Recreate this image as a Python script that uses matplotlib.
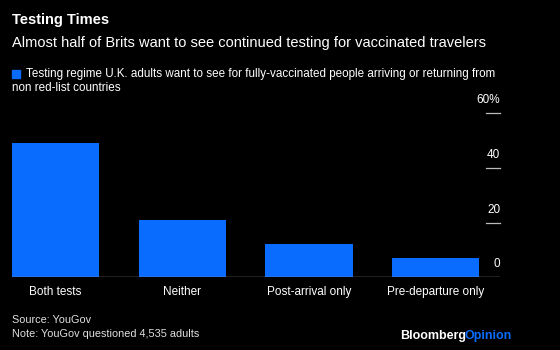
import matplotlib.pyplot as plt
import matplotlib.transforms as mtransforms

plt.rcParams['font.family'] = ['Liberation Sans', 'DejaVu Sans']

categories = ['Both tests', 'Neither', 'Post-arrival only', 'Pre-departure only']
shares = [49, 21, 12, 7]
yticks = [0, 20, 40, 60]
ytick_labels = ['0', '20', '40', '60%']

blue = '#0a6cff'
bg = 'black'

fig = plt.figure(figsize=(5.6, 3.5), dpi=100, facecolor=bg)
ax = fig.add_axes([0.0214, 0.2077, 0.8716, 0.469])
ax.set_facecolor(bg)

x = range(len(categories))
ax.bar(x, shares, width=0.69, color=blue, zorder=2)
ax.set_xlim(-0.345, 3.51)
ax.set_ylim(0, 60)

for s in ax.spines.values():
    s.set_visible(False)
ax.axhline(0, color='#9a9a9a', lw=1, zorder=3)

ax.set_xticks(list(x))
ax.set_xticklabels(categories, color='white', fontsize=8.5)
ax.tick_params(axis='x', length=0, pad=6)
ax.set_yticks([])

# right-hand value scale: short rules with labels sitting above them
trans = mtransforms.blended_transform_factory(ax.transAxes, ax.transData)
for v, lab in zip(yticks, ytick_labels):
    if v > 0:
        ax.plot([0.972, 1.0], [v, v], color='#bbbbbb', lw=0.9, transform=trans,
                clip_on=False, zorder=3)
    ax.annotate(lab, xy=(1.0, v), xycoords=trans, xytext=(0, 5),
                textcoords='offset points', ha='right', va='bottom',
                color='white', fontsize=8.5)

fig.text(12 / 560, 1 - 20 / 350, 'Testing Times', color='white', fontsize=10.5,
         fontweight='bold', va='center')
fig.text(12 / 560, 1 - 43 / 350,
         'Almost half of Brits want to see continued testing for vaccinated travelers',
         color='white', fontsize=10.55, va='center')
fig.patches.append(plt.Rectangle((12 / 560, 1 - 78 / 350), 8 / 560, 8 / 350,
                                 color=blue, transform=fig.transFigure, figure=fig))
fig.text(26 / 560, 1 - 73.5 / 350,
         'Testing regime U.K. adults want to see for fully-vaccinated people arriving or returning from',
         color='white', fontsize=8.35, va='center')
fig.text(12 / 560, 1 - 88 / 350, 'non red-list countries', color='white',
         fontsize=8.35, va='center')

fig.text(12 / 560, 1 - 320 / 350, 'Source: YouGov', color='#e0e0e0', fontsize=7.8,
         va='center')
fig.text(12 / 560, 1 - 334 / 350, 'Note: YouGov questioned 4,535 adults',
         color='#e0e0e0', fontsize=7.8, va='center')

t = fig.text(400 / 560, 1 - 336 / 350, 'Bloomberg', color='white', fontsize=9,
             fontweight='bold', va='center')
fig.canvas.draw()
w_pt = t.get_window_extent().width * 72 / fig.dpi - 1.2
fig.text(0, 0, 'Opinion', color=blue, fontsize=9, fontweight='bold', va='center',
         transform=mtransforms.offset_copy(t.get_transform(), fig=fig, x=w_pt,
                                           units='points')).set_position(t.get_position())

fig.savefig('out.png', dpi=100, facecolor=bg)
